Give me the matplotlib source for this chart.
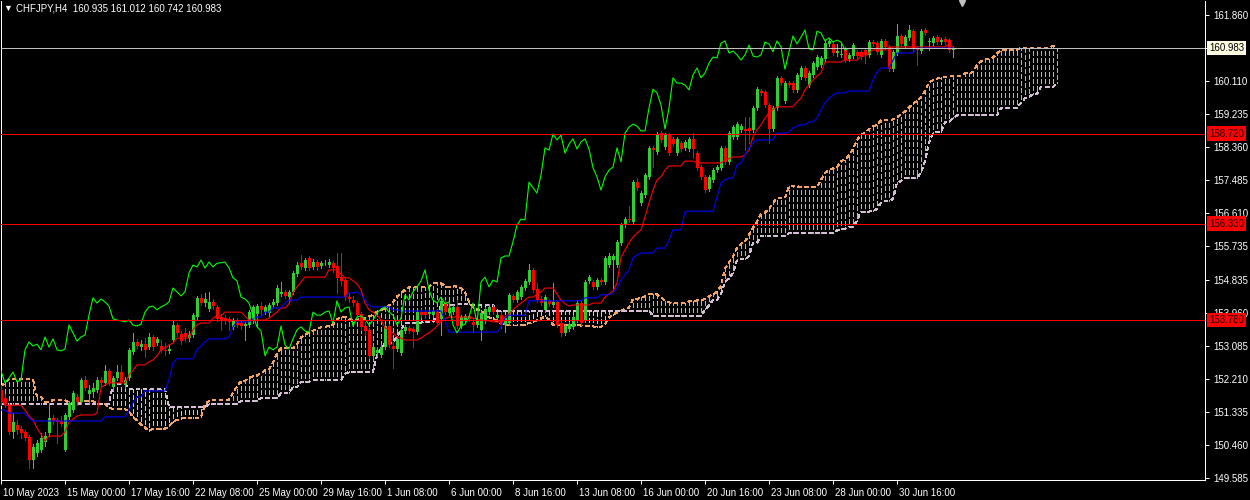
import numpy as np
import matplotlib
matplotlib.use("Agg")
import matplotlib.pyplot as plt
from matplotlib.transforms import blended_transform_factory, ScaledTranslation

# CHFJPY H4 bars, 10 May 2023 16:00 .. 5 Jul 2023 00:00
opens = [
    151.91, 151.70, 151.51, 150.80, 150.98, 150.88, 150.80, 150.67, 150.05, 150.24,
    150.32, 150.53, 150.77, 151.17, 151.12, 151.09, 150.32, 151.20, 151.38, 151.73,
    151.59, 152.18, 151.81, 151.86, 151.91, 152.18, 152.10, 152.42, 151.99, 152.23,
    152.39, 152.05, 152.23, 152.92, 153.19, 153.05, 153.13, 153.05, 153.32, 153.16,
    153.08, 152.98, 152.95, 153.24, 153.64, 153.40, 153.43, 153.29, 153.37, 153.85,
    154.36, 154.22, 154.06, 154.25, 154.12, 153.85, 153.82, 153.80, 153.58, 153.77,
    153.69, 153.61, 153.64, 153.75, 153.93, 154.14, 153.98, 153.96, 154.17, 154.22,
    154.46, 154.52, 154.38, 154.52, 154.99, 155.28, 155.15, 155.42, 155.18, 155.31,
    155.20, 155.28, 155.23, 155.28, 155.20, 154.91, 154.83, 154.38, 154.30, 154.22,
    153.93, 153.61, 153.51, 152.82, 152.89, 152.84, 153.05, 153.61, 153.08, 153.00,
    152.89, 153.48, 153.56, 153.53, 153.45, 153.98, 153.98, 153.93, 153.90, 154.01,
    153.80, 154.25, 153.96, 153.98, 154.12, 153.61, 153.77, 153.88, 153.72, 153.64,
    153.51, 153.75, 153.98, 154.12, 153.82, 153.90, 153.64, 153.69, 154.41, 154.30,
    154.38, 154.62, 154.78, 155.10, 154.59, 154.33, 154.04, 154.28, 154.17, 154.25,
    153.69, 153.43, 153.53, 153.59, 153.77, 154.22, 153.77, 154.81, 154.78, 154.65,
    154.83, 154.78, 155.23, 155.36, 155.23, 155.82, 156.29, 156.45, 156.37, 157.43,
    156.88, 157.09, 157.57, 158.34, 158.23, 158.73, 158.36, 158.68, 158.58, 158.20,
    158.47, 158.34, 158.31, 158.58, 158.20, 157.83, 157.57, 157.25, 157.49, 157.75,
    157.81, 158.34, 157.97, 158.63, 158.63, 158.81, 158.84, 158.87, 158.81, 159.40,
    159.85, 159.82, 159.48, 158.84, 159.40, 160.20, 159.58, 160.06, 160.06, 159.88,
    160.22, 160.46, 160.01, 160.28, 160.49, 160.54, 160.70, 161.10, 161.10, 160.86,
    160.81, 160.99, 160.70, 160.78, 160.89, 160.89, 160.94, 160.81, 161.15, 161.12,
    160.81, 161.18, 161.02, 160.43, 160.86, 161.31, 161.04, 161.26, 161.44, 160.99,
    160.91, 161.47, 161.15, 161.12, 161.28, 161.15, 161.23, 161.20, 160.935,
]
highs = [
    152.05, 151.81, 151.57, 151.30, 151.12, 150.96, 150.85, 150.72, 150.48, 150.59,
    150.77, 150.80, 151.57, 151.25, 151.17, 151.22, 151.30, 151.62, 151.89, 151.81,
    152.23, 152.28, 152.05, 152.10, 152.26, 152.26, 152.58, 152.47, 152.28, 152.58,
    152.58, 152.26, 153.03, 153.43, 153.27, 153.24, 153.29, 153.43, 153.37, 153.32,
    153.24, 153.16, 153.11, 153.77, 153.69, 153.48, 153.56, 153.48, 153.96, 154.41,
    154.46, 154.49, 154.52, 154.33, 154.17, 153.93, 153.90, 153.85, 153.82, 153.82,
    153.77, 153.72, 154.04, 154.17, 154.20, 154.25, 154.17, 154.22, 154.33, 154.70,
    154.78, 154.57, 154.57, 155.07, 155.31, 155.50, 155.42, 155.47, 155.39, 155.36,
    155.34, 155.36, 155.39, 155.34, 155.55, 155.55, 154.89, 154.49, 154.41, 154.28,
    153.98, 153.72, 153.56, 153.11, 153.05, 153.13, 153.66, 153.66, 153.19, 153.35,
    153.56, 153.64, 153.61, 153.59, 154.04, 154.06, 154.06, 154.04, 154.06, 154.06,
    154.33, 154.30, 154.14, 154.17, 154.30, 153.90, 153.93, 153.93, 153.80, 153.88,
    154.01, 154.12, 154.20, 154.17, 153.98, 153.98, 153.88, 154.49, 154.46, 154.57,
    154.70, 154.86, 155.26, 155.15, 154.75, 154.41, 154.44, 154.33, 154.75, 154.30,
    153.75, 153.66, 153.72, 153.90, 154.30, 154.30, 154.83, 154.97, 154.83, 154.89,
    154.89, 155.47, 155.55, 155.52, 155.89, 156.35, 156.51, 156.80, 157.49, 157.54,
    157.20, 157.68, 158.39, 158.39, 158.76, 158.79, 158.73, 158.73, 158.63, 158.63,
    158.52, 158.55, 158.63, 158.73, 158.26, 157.89, 157.62, 157.62, 157.81, 157.89,
    158.39, 158.39, 158.79, 158.95, 159.03, 158.97, 159.16, 159.16, 159.45, 159.96,
    159.90, 159.88, 159.53, 159.45, 160.25, 160.25, 160.12, 160.12, 160.12, 160.33,
    160.51, 160.51, 160.38, 160.65, 160.81, 160.78, 161.18, 161.23, 161.15, 161.10,
    161.12, 161.04, 160.86, 161.12, 160.94, 160.94, 160.99, 161.20, 161.20, 161.18,
    161.23, 161.23, 161.07, 160.94, 161.63, 161.36, 161.34, 161.60, 161.50, 161.04,
    161.50, 161.52, 161.26, 161.31, 161.34, 161.26, 161.28, 161.26, 161.012,
]
lows = [
    151.51, 151.46, 150.74, 150.64, 150.74, 150.64, 150.59, 149.84, 149.84, 150.16,
    150.27, 150.43, 150.69, 151.01, 150.51, 150.96, 150.29, 151.14, 151.33, 151.51,
    151.54, 151.91, 151.57, 151.73, 151.86, 152.02, 152.05, 152.05, 151.91, 152.18,
    152.07, 151.97, 152.18, 152.87, 153.03, 152.98, 152.79, 153.00, 152.98, 153.11,
    152.92, 152.84, 152.89, 153.19, 153.35, 153.13, 153.21, 153.21, 153.32, 153.80,
    154.17, 154.14, 154.01, 154.06, 153.74, 153.51, 153.66, 153.51, 153.53, 153.59,
    153.53, 153.24, 153.59, 153.69, 153.61, 153.90, 153.93, 153.88, 154.12, 154.17,
    154.41, 154.36, 154.22, 154.46, 154.94, 155.12, 155.10, 155.10, 155.12, 155.10,
    155.15, 155.23, 155.18, 155.05, 154.49, 154.70, 154.30, 154.25, 154.14, 153.82,
    153.51, 153.37, 152.76, 152.76, 152.82, 152.79, 153.00, 153.05, 152.50, 152.95,
    152.84, 153.43, 153.43, 153.05, 153.40, 153.85, 153.82, 153.88, 153.85, 153.64,
    153.37, 153.93, 153.90, 153.93, 153.56, 153.56, 153.72, 153.75, 153.45, 153.59,
    153.24, 153.69, 153.93, 153.93, 153.77, 153.56, 153.45, 153.64, 154.25, 154.25,
    154.33, 154.57, 154.73, 154.52, 154.25, 154.17, 153.98, 154.14, 154.12, 153.59,
    153.35, 153.37, 153.48, 153.53, 153.72, 153.64, 153.72, 154.75, 154.59, 154.59,
    154.73, 154.73, 155.18, 154.57, 155.18, 155.76, 156.24, 156.37, 156.32, 157.22,
    156.82, 157.04, 157.51, 157.83, 158.18, 158.50, 158.31, 158.15, 158.39, 158.15,
    158.26, 158.28, 158.26, 158.07, 157.75, 157.51, 157.17, 157.20, 157.43, 157.70,
    157.75, 157.91, 157.91, 158.58, 158.58, 158.76, 158.28, 158.47, 158.76, 159.35,
    159.74, 159.43, 158.47, 158.79, 159.35, 160.01, 159.53, 159.96, 159.82, 159.82,
    160.17, 160.14, 159.96, 160.22, 160.43, 160.49, 160.65, 161.04, 160.81, 160.78,
    160.75, 160.62, 160.65, 160.73, 160.73, 160.70, 160.59, 160.75, 161.04, 160.83,
    160.75, 160.97, 160.38, 160.38, 160.81, 161.04, 160.99, 161.20, 160.91, 160.54,
    160.86, 161.34, 160.94, 161.07, 161.10, 161.10, 161.10, 160.89, 160.742,
]
closes = [
    151.59, 151.54, 150.80, 151.06, 150.85, 150.77, 150.64, 150.05, 150.40, 150.51,
    150.64, 150.69, 151.17, 151.09, 151.06, 151.01, 151.25, 151.57, 151.83, 151.59,
    152.18, 151.97, 151.91, 151.97, 152.18, 152.10, 152.42, 152.10, 152.23, 152.39,
    152.13, 152.18, 152.98, 153.19, 153.08, 153.13, 152.98, 153.32, 153.05, 153.27,
    152.98, 152.95, 153.00, 153.64, 153.43, 153.21, 153.32, 153.37, 153.90, 154.36,
    154.22, 154.33, 154.25, 154.14, 153.80, 153.77, 153.75, 153.72, 153.77, 153.64,
    153.61, 153.66, 153.98, 154.12, 154.14, 154.04, 154.12, 154.17, 154.25, 154.62,
    154.52, 154.41, 154.52, 155.02, 155.23, 155.18, 155.36, 155.15, 155.31, 155.18,
    155.28, 155.29, 155.31, 155.15, 154.89, 154.81, 154.38, 154.33, 154.22, 153.90,
    153.59, 153.48, 152.82, 153.05, 152.98, 153.05, 153.61, 153.11, 153.00, 153.27,
    153.51, 153.59, 153.48, 153.45, 153.98, 153.90, 153.90, 153.98, 154.01, 153.69,
    154.28, 153.98, 154.09, 154.12, 153.61, 153.85, 153.88, 153.80, 153.64, 153.77,
    153.96, 154.06, 154.12, 153.98, 153.90, 153.64, 153.82, 154.44, 154.30, 154.52,
    154.65, 154.81, 155.10, 154.57, 154.30, 154.22, 154.38, 154.20, 154.25, 153.64,
    153.43, 153.61, 153.66, 153.85, 154.22, 153.69, 154.78, 154.91, 154.65, 154.83,
    154.78, 155.42, 155.47, 155.47, 155.85, 156.29, 156.45, 156.43, 157.43, 157.28,
    157.14, 157.62, 158.34, 158.28, 158.71, 158.55, 158.68, 158.20, 158.44, 158.58,
    158.31, 158.50, 158.58, 158.31, 157.81, 157.57, 157.22, 157.57, 157.75, 157.83,
    158.34, 157.97, 158.73, 158.89, 158.97, 158.92, 158.79, 158.79, 159.40, 159.90,
    159.80, 159.48, 158.84, 159.40, 160.20, 160.06, 160.06, 160.01, 159.88, 160.28,
    160.46, 160.20, 160.33, 160.59, 160.75, 160.73, 161.12, 161.18, 160.86, 160.91,
    160.81, 160.67, 160.81, 161.07, 160.78, 160.75, 160.81, 161.15, 161.10, 160.89,
    161.18, 161.02, 160.43, 160.89, 161.31, 161.10, 161.28, 161.47, 160.97, 160.94,
    161.44, 161.39, 161.18, 161.26, 161.15, 161.20, 161.15, 160.94, 160.983,
]

# Ichimoku lines as (level, number of bars) runs
tenkan_runs = [
    (151.70, 1), (151.51, 5), (151.38, 1), (151.22, 1), (151.12, 1), (150.90, 1), (150.74, 1), (150.56, 1), (150.69, 4),
    (150.80, 1), (151.06, 1), (151.14, 1), (151.22, 1), (151.25, 4), (151.30, 1), (151.97, 1), (152.05, 1), (152.10, 5),
    (152.31, 1), (152.44, 1), (152.58, 3), (152.66, 1), (152.71, 1), (152.82, 1), (152.98, 1), (153.03, 1), (153.11, 1), (153.16, 1),
    (153.29, 4), (153.51, 1), (153.64, 1), (153.69, 3), (153.82, 1), (153.88, 2), (153.98, 5), (153.88, 1), (153.77, 5),
    (153.82, 1), (153.90, 1), (153.98, 1), (154.09, 2), (154.20, 1), (154.49, 1), (154.65, 1), (154.78, 1), (154.91, 6),
    (155.10, 3), (154.99, 1), (154.89, 2), (154.81, 1), (154.73, 1), (154.57, 1), (154.22, 1), (154.04, 1), (153.98, 1),
    (153.90, 1), (153.77, 1), (153.56, 1), (153.51, 1), (153.43, 1), (153.32, 1), (153.29, 1), (153.24, 4), (153.29, 1),
    (153.37, 1), (153.43, 1), (153.51, 1), (153.61, 1), (153.72, 1), (153.80, 1), (153.85, 6), (153.82, 1), (153.80, 1),
    (153.77, 1), (153.75, 2), (153.72, 3), (153.85, 1), (153.93, 1), (154.04, 1), (154.14, 1), (154.22, 1), (154.30, 1),
    (154.38, 2), (154.46, 1), (154.52, 1), (154.62, 3), (154.46, 1), (154.30, 1), (154.20, 1), (154.14, 1), (154.17, 5),
    (154.22, 3), (154.38, 1), (154.46, 1), (154.54, 1), (154.75, 1), (155.44, 1), (155.63, 1), (155.82, 1), (155.97, 1),
    (156.08, 1), (156.16, 1), (156.51, 1), (156.88, 1), (157.22, 1), (157.49, 1), (157.57, 1), (157.75, 1), (157.86, 4),
    (157.99, 3), (157.94, 7), (158.02, 1), (158.05, 1), (158.10, 3), (158.15, 1), (158.28, 1), (158.63, 1), (158.82, 1),
    (158.95, 1), (159.13, 1), (159.27, 1), (159.35, 1), (159.43, 5), (159.56, 1), (159.66, 1), (159.88, 1), (160.01, 1),
    (160.14, 1), (160.25, 1), (160.33, 1), (160.62, 5), (160.67, 4), (160.78, 2), (160.86, 1), (160.94, 4), (161.02, 15),
    (161.10, 1), (161.02, 1),
]
kijun_runs = [
    (151.38, 2), (151.30, 5), (151.17, 1), (151.09, 18), (151.20, 6), (151.38, 1), (151.57, 1), (151.73, 2), (151.89, 6),
    (152.18, 1), (152.63, 1), (152.74, 5), (152.98, 1), (153.08, 1), (153.19, 1), (153.27, 5), (153.32, 1), (153.59, 1),
    (153.72, 4), (153.80, 1), (153.85, 2), (153.98, 2), (154.09, 3), (154.22, 1), (154.30, 3), (154.38, 12), (154.49, 2),
    (154.52, 1), (154.44, 1), (154.30, 1), (154.17, 1), (154.12, 5), (154.04, 2), (154.01, 11), (153.77, 1), (153.45, 13),
    (153.59, 1), (153.82, 1), (153.90, 5), (154.28, 14), (154.36, 4), (154.44, 3), (154.49, 1), (154.62, 1), (154.83, 1),
    (154.97, 1), (155.10, 1), (155.42, 1), (155.50, 1), (155.55, 4), (155.68, 3), (155.89, 1), (156.16, 3), (156.64, 1),
    (156.66, 7), (157.04, 1), (157.41, 1), (157.49, 1), (157.54, 2), (157.89, 1), (157.94, 1), (158.15, 1), (158.34, 1),
    (158.47, 1), (158.55, 5), (158.73, 3), (158.76, 1), (158.87, 1), (158.92, 1), (158.95, 2), (159.03, 2), (159.13, 1),
    (159.35, 1), (159.53, 1), (159.66, 1), (159.74, 1), (159.80, 3), (159.85, 6), (160.14, 1), (160.35, 1), (160.46, 3),
    (160.67, 1), (160.86, 5), (160.99, 10),
]
# senkou span A for the first 26 shifted bars (its source bars are off-screen)
span_a_head_runs = [
    (152.02, 1), (152.10, 1), (152.20, 7), (151.73, 2), (151.59, 2), (151.65, 4), (151.57, 4), (151.62, 3), (151.54, 2),
]
span_b_runs = [
    (151.54, 28), (152.07, 4), (151.94, 10), (151.46, 10), (151.54, 8), (151.62, 5), (151.70, 5), (151.83, 3), (151.99, 2),
    (152.13, 3), (152.18, 8), (152.34, 1), (152.39, 1), (152.40, 6), (152.83, 1), (153.01, 1), (153.15, 1), (153.16, 1),
    (153.17, 1), (153.32, 1), (153.52, 1), (153.68, 1), (153.70, 4), (153.73, 3), (153.84, 1), (154.17, 4), (154.20, 4),
    (154.16, 6), (154.02, 39), (153.88, 13), (154.05, 1), (154.16, 1), (154.30, 2), (154.47, 1), (154.79, 1), (154.87, 1),
    (155.02, 1), (155.36, 1), (155.39, 2), (155.46, 1), (155.82, 2), (156.00, 1), (156.01, 6), (156.07, 12), (156.15, 1),
    (156.19, 2), (156.25, 2), (156.40, 1), (156.65, 3), (156.66, 1), (156.72, 1), (156.89, 1), (156.94, 2), (156.98, 1),
    (157.41, 1), (157.46, 1), (157.54, 4), (157.69, 1), (157.99, 1), (158.47, 1), (158.73, 1), (158.77, 2), (159.03, 2),
    (159.13, 1), (159.20, 11), (159.40, 4), (159.41, 1), (159.53, 1), (159.66, 1), (159.69, 1), (159.77, 2), (159.96, 4),
    (160.05, 1),
]

level_lines = [158.720, 156.330, 153.780]
ytick_vals = [161.860, 160.985, 160.110, 159.235, 158.360, 157.485, 156.610, 155.735,
              154.835, 153.960, 153.085, 152.210, 151.335, 150.460, 149.585]
xtick_labels = ["10 May 2023", "15 May 00:00", "17 May 16:00", "22 May 08:00", "25 May 00:00",
                "29 May 16:00", "1 Jun 08:00", "6 Jun 00:00", "8 Jun 16:00", "13 Jun 08:00",
                "16 Jun 00:00", "20 Jun 16:00", "23 Jun 08:00", "28 Jun 00:00", "30 Jun 16:00"]
xtick_bars = [0, 16, 32, 48, 64, 80, 96, 112, 128, 144, 160, 176, 192, 208, 224]
SHIFT = 26


def expand(runs):
    return np.concatenate([np.full(n, v) for v, n in runs])


BG = "#000000"
FG = "#ffffff"
BULL = "#32cd32"
BEAR = "#ff0000"
SANDY = "#f4a460"
THISTLE = "#d8bfd8"
PX = 0.72  # one pixel in points at 100 dpi

plt.rcParams["font.family"] = ["Liberation Sans", "DejaVu Sans"]
plt.rcParams["lines.scale_dashes"] = False

o, h, l, c = (np.array(v) for v in (opens, highs, lows, closes))
idx = np.arange(len(c))
tenkan = expand(tenkan_runs)
kijun = expand(kijun_runs)
span_a = np.concatenate([expand(span_a_head_runs), (tenkan + kijun) / 2])
span_b = expand(span_b_runs)
kk = np.arange(len(span_b))

fig = plt.figure(figsize=(12.5, 5), dpi=100, facecolor=BG)
ax = fig.add_axes([0.5 / 1250, 20.5 / 500, 1204.5 / 1250, 479 / 500], facecolor=BG)

# cloud: dotted hatch per bar (starting on a gap), then both span lines
hatch = (2.16, (2.9, 1.45))
edge = (0, (2.16, 2.16))
cloud_cols = np.where(span_a >= span_b, SANDY, THISTLE)
ax.vlines(kk, np.minimum(span_a, span_b), np.maximum(span_a, span_b),
          colors=cloud_cols, linewidth=PX, linestyles=hatch, antialiased=False, zorder=1)
ax.plot(kk, span_a, color=SANDY, lw=PX, ls=edge, antialiased=False, zorder=1.2)
ax.plot(kk, span_b, color=THISTLE, lw=PX, ls=edge, antialiased=False, zorder=1.2)

# candles
up = c >= o
cols = np.where(up, BULL, BEAR)
ax.vlines(idx, l, h, colors=cols, linewidth=PX, antialiased=False, zorder=3)
ax.bar(idx, np.maximum(np.abs(c - o), 0.013), bottom=np.minimum(o, c), width=0.75,
       color=cols, linewidth=0, antialiased=False, zorder=3)

# tenkan / kijun / chikou
ax.plot(idx, tenkan, color="#ff0000", lw=0.8, zorder=4)
ax.plot(idx, kijun, color="#0000ff", lw=0.8, zorder=4)
ax.plot(idx[:-SHIFT], c[SHIFT:], color="#00ff00", lw=0.8, zorder=4)

# bid line and horizontal levels
ax.axhline(c[-1], color="#c0c0c0", lw=PX, antialiased=False, zorder=5)
for lv in level_lines:
    ax.axhline(lv, color="#ff0000", lw=PX, antialiased=False, zorder=5)

ax.set_xlim(-0.125, -0.125 + 1204.5 / 4)
ax.set_ylim(162.266 - 0.026547 * 479.5, 162.266 - 0.026547 * 0.5)

for side in ("left", "bottom", "right"):
    ax.spines[side].set_color(FG)
    ax.spines[side].set_linewidth(PX)
ax.spines["top"].set_visible(False)

# the 160.985 label sits under the bid tag, so only its tick shows
ax.yaxis.tick_right()
ax.set_yticks(ytick_vals)
ax.set_yticklabels(["" if v == 160.985 else f"{v:.3f}" for v in ytick_vals])
ax.tick_params(axis="y", colors=FG, length=3, width=PX, pad=3, labelsize=7)

ax.set_xticks(xtick_bars)
ax.set_xticklabels(xtick_labels, ha="left")
ax.tick_params(axis="x", colors=FG, length=3, width=PX, pad=3, labelsize=7)
shift = ScaledTranslation(2 / 100, 0, fig.dpi_scale_trans)
for lab in ax.get_xticklabels():
    lab.set_transform(lab.get_transform() + shift)

# price tags on the scale
trans = blended_transform_factory(ax.transAxes, ax.transData)
ax.text(1.0 + 4 / 1204.5, c[-1], f"{c[-1]:.3f}", transform=trans, ha="left", va="center",
        fontsize=7, color="#000000", zorder=10, clip_on=False,
        bbox=dict(boxstyle="square,pad=0.22", fc="#fffbe0", ec="none"))
for lv in level_lines:
    ax.text(1.0 + 4 / 1204.5, lv, f"{lv:.3f}", transform=trans, ha="left", va="center",
            fontsize=7, color="#200000", zorder=10, clip_on=False,
            bbox=dict(boxstyle="square,pad=0.22", fc="#ff0000", ec="none"))

# chart shift marker
ax.plot([len(c) + 1.25], [ax.get_ylim()[1] - 0.07], marker="v", ms=5, color="#c0c0c0",
        clip_on=False, zorder=10)

# header
fig.text(3.5 / 1250, 1 - 8.5 / 500, "\u25bc", fontsize=6.5, color=FG, va="center")
fig.text(16 / 1250, 1 - 8.5 / 500,
         f"CHFJPY,H4  {o[-1]:.3f} {h[-1]:.3f} {l[-1]:.3f} {c[-1]:.3f}",
         fontsize=7, color=FG, va="center")

fig.savefig("out.png", dpi=100, facecolor=BG)
